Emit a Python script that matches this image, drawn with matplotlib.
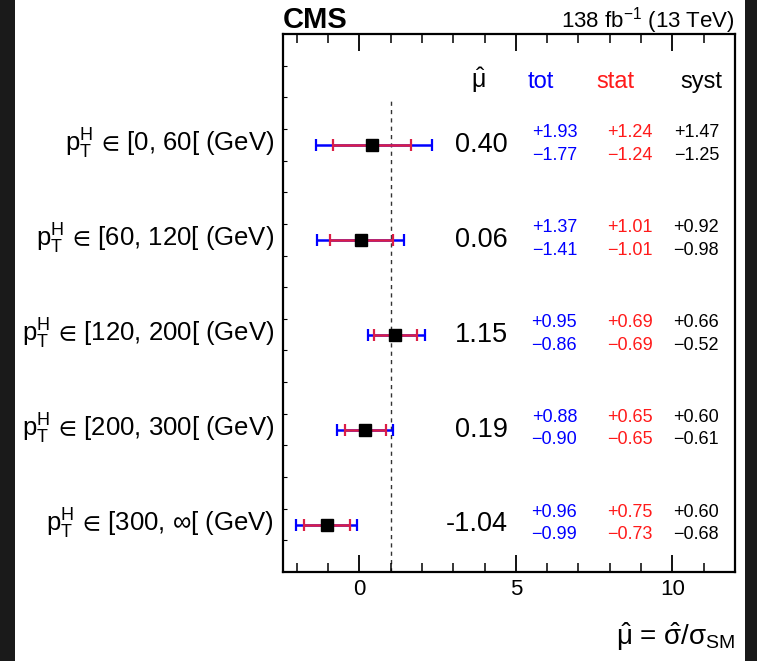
import matplotlib
matplotlib.use("Agg")
import matplotlib.pyplot as plt
from matplotlib.patches import Rectangle

# ---------------- data ----------------
bins = ["[0, 60[", "[60, 120[", "[120, 200[", "[200, 300[", "[300, \u221e["]
mu_text = ["0.40", "0.06", "1.15", "0.19", "-1.04"]
mu = [0.40, 0.06, 1.15, 0.19, -1.04]
tot_up = [1.93, 1.37, 0.95, 0.88, 0.96]
tot_dn = [1.77, 1.41, 0.86, 0.90, 0.99]
stat_up = [1.24, 1.01, 0.69, 0.65, 0.75]
stat_dn = [1.24, 1.01, 0.69, 0.65, 0.73]
syst_up = [1.47, 0.92, 0.66, 0.60, 0.60]
syst_dn = [1.25, 0.98, 0.52, 0.61, 0.68]
row_y = [13.5, 10.5, 7.5, 4.5, 1.5]
x_ticks = [0, 5, 10]

plt.rcParams['font.family'] = ['Liberation Sans', 'DejaVu Sans']
plt.rcParams['mathtext.fontset'] = 'custom'
plt.rcParams['mathtext.rm'] = 'Liberation Sans'
plt.rcParams['mathtext.it'] = 'Liberation Sans'
plt.rcParams['mathtext.bf'] = 'Liberation Sans:bold'
plt.rcParams['mathtext.fallback'] = 'stixsans'

NARROW = ['Liberation Sans Narrow', 'Liberation Sans', 'DejaVu Sans']

W, H = 757, 661
fig = plt.figure(figsize=(W / 100, H / 100), dpi=100, facecolor='white')
# dark frame strips at the sides
fig.patches.append(Rectangle((0, 0), 15 / W, 1, transform=fig.transFigure,
                             facecolor='#1a1a1a', edgecolor='none', zorder=0))
fig.patches.append(Rectangle((745 / W, 0), 12 / W, 1, transform=fig.transFigure,
                             facecolor='#1a1a1a', edgecolor='none', zorder=0))

ax = fig.add_axes([283 / W, 1 - 572 / H, (735 - 283) / W, (572 - 34) / H])
ax.set_xlim(-2.44, 12.0)
ax.set_ylim(0, 17)

RED_LINE = '#dc1e46'
BLUE = '#0000ff'
RED_TXT = '#ff1a1a'

ax.axvline(1.0, ymin=0, ymax=15 / 17, color='#333333', ls=(0, (3, 3)), lw=1.0, zorder=1)

ax.errorbar(mu, row_y, xerr=[tot_dn, tot_up], fmt='none', ecolor=BLUE,
            elinewidth=1.8, capsize=4.5, capthick=1.6, zorder=2)
ax.errorbar(mu, row_y, xerr=[stat_dn, stat_up], fmt='none', ecolor=RED_LINE,
            elinewidth=1.8, capsize=4.5, capthick=1.6, zorder=3)
ax.plot(mu, row_y, 's', color='black', markersize=8, zorder=4)

PT = r'$\mathrm{p}_{\mathrm{T}}^{\mathrm{H}}\,\in\,$'

# row labels and numbers
for i, y in enumerate(row_y):
    ax.text(-2.72, y - 0.22, PT + bins[i] + ' (GeV)',
            ha='right', va='baseline', fontsize=18.5, clip_on=False)
    ax.text(4.75, y - 0.22, mu_text[i], ha='right', va='baseline', fontsize=19.5)
    ax.text(6.96, y + 0.25, '+%.2f' % tot_up[i], ha='right', va='baseline',
            fontsize=13, color=BLUE, family=NARROW)
    ax.text(6.96, y - 0.47, '\u2212%.2f' % tot_dn[i], ha='right', va='baseline',
            fontsize=13, color=BLUE, family=NARROW)
    ax.text(9.38, y + 0.25, '+%.2f' % stat_up[i], ha='right', va='baseline',
            fontsize=13, color=RED_TXT, family=NARROW)
    ax.text(9.38, y - 0.47, '\u2212%.2f' % stat_dn[i], ha='right', va='baseline',
            fontsize=13, color=RED_TXT, family=NARROW)
    ax.text(11.49, y + 0.25, '+%.2f' % syst_up[i], ha='right', va='baseline',
            fontsize=13, color='black', family=NARROW)
    ax.text(11.49, y - 0.47, '\u2212%.2f' % syst_dn[i], ha='right', va='baseline',
            fontsize=13, color='black', family=NARROW)

# header
ax.text(3.81, 15.3, r'$\hat{\mu}$', ha='center', va='baseline', fontsize=18)
ax.text(5.8, 15.3, 'tot', ha='center', va='baseline', fontsize=17, color=BLUE, family=NARROW)
ax.text(8.17, 15.3, 'stat', ha='center', va='baseline', fontsize=17, color=RED_TXT, family=NARROW)
ax.text(10.94, 15.3, 'syst', ha='center', va='baseline', fontsize=17, color='black', family=NARROW)

# axes styling
for s in ax.spines.values():
    s.set_linewidth(1.6)
ax.set_xticks(x_ticks)
ax.set_xticks(range(-2, 12), minor=True)
ax.set_yticks([])
ax.set_yticks(range(1, 17), minor=True)
ax.tick_params(axis='x', which='major', direction='in', length=12.5, width=1.3,
               top=True, labelsize=16, pad=5)
ax.tick_params(axis='x', which='minor', direction='in', length=6.5, width=1.1, top=True)
ax.tick_params(axis='y', which='minor', direction='in', length=3, width=0.8,
               left=True, right=False)

fig.text(283 / W, 1 - 28 / H, 'CMS', ha='left', va='baseline', fontsize=21,
         fontweight='bold')
fig.text(735 / W, 1 - 27 / H, '138 fb$^{\\mathrm{-1}}$ (13 TeV)', ha='right',
         va='baseline', fontsize=16)
fig.text(735 / W, 1 - 645 / H, r'$\hat{\mu}$ = $\hat{\sigma}/\sigma_{\mathrm{SM}}$',
         ha='right', va='baseline', fontsize=20)

fig.savefig('out.png', dpi=100, facecolor='white')
